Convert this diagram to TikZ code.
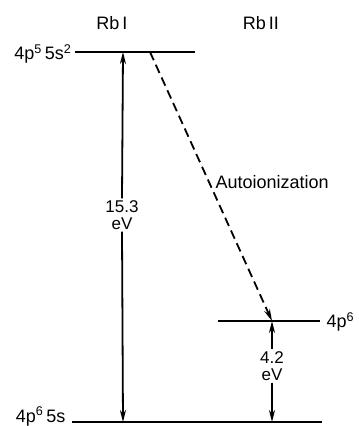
\documentclass[tikz,border=0pt]{standalone}
\usepackage{fontspec}
\setmainfont{Liberation Sans}
\usetikzlibrary{arrows.meta}
\tikzset{
  nivel/.style={line width=2pt},
  flecha/.style={line width=1.8pt, -{Stealth[length=12pt,width=6pt]}},
  rotulo/.style={font=\fontsize{17}{17}\selectfont, inner sep=2pt}
}

\begin{document}
\begin{tikzpicture}[x=1pt, y=-1pt, font=\fontsize{18}{20}\selectfont]
				\useasboundingbox (0,0) rectangle (359,426);
				% niveles de energia
				\coordinate (supI) at (75,52);
				\coordinate (supD) at (195,52);
				\coordinate (medI) at (218,321);
				\coordinate (medD) at (320,321);
				\coordinate (infI) at (72,422);
				\coordinate (infD) at (322,422);
				\draw[nivel] (supI) -- (supD);
				\draw[nivel] (medI) -- (medD);
				\draw[nivel] (infI) -- (infD);
				\node (rbuno) at (112,23) {Rb\,{\rmfamily I}};
				\node (rbdos) at (261,23) {Rb\,{\rmfamily II}};
				\node[anchor=east, yshift=-2pt] (conf1) at (supI) {4p\textsuperscript{5}\,5s\textsuperscript{2}};
				\node[anchor=west, yshift=-1pt] (conf2) at (medD) {\,4p\textsuperscript{6}};
				\node[anchor=base east] (conf3) at (infI) {4p\textsuperscript{6}\,5s\,};
				% transiciones
				\coordinate (fsup) at (123,52);
				\coordinate (finf) at (123,422);
				\coordinate (dini) at (150,52);
				\coordinate (dfin) at (272,321);
				\coordinate (einf) at (272,422);
				\node[rotulo, align=center] (e153) at (122,215) {15.3\\eV};
				\draw[flecha] (e153.north) -- (fsup);
				\draw[flecha] (e153.south) -- (finf);
				\node[rotulo, align=center] (e42) at (272,366) {4.2\\eV};
				\draw[flecha] (e42.north) -- (dfin);
				\draw[flecha] (e42.south) -- (einf);
				\draw[flecha, dash pattern=on 9pt off 5pt] (dini) -- (dfin);
				\node[anchor=west] (auto) at (212,182) {Autoionization};
			\end{tikzpicture}
\end{document}
